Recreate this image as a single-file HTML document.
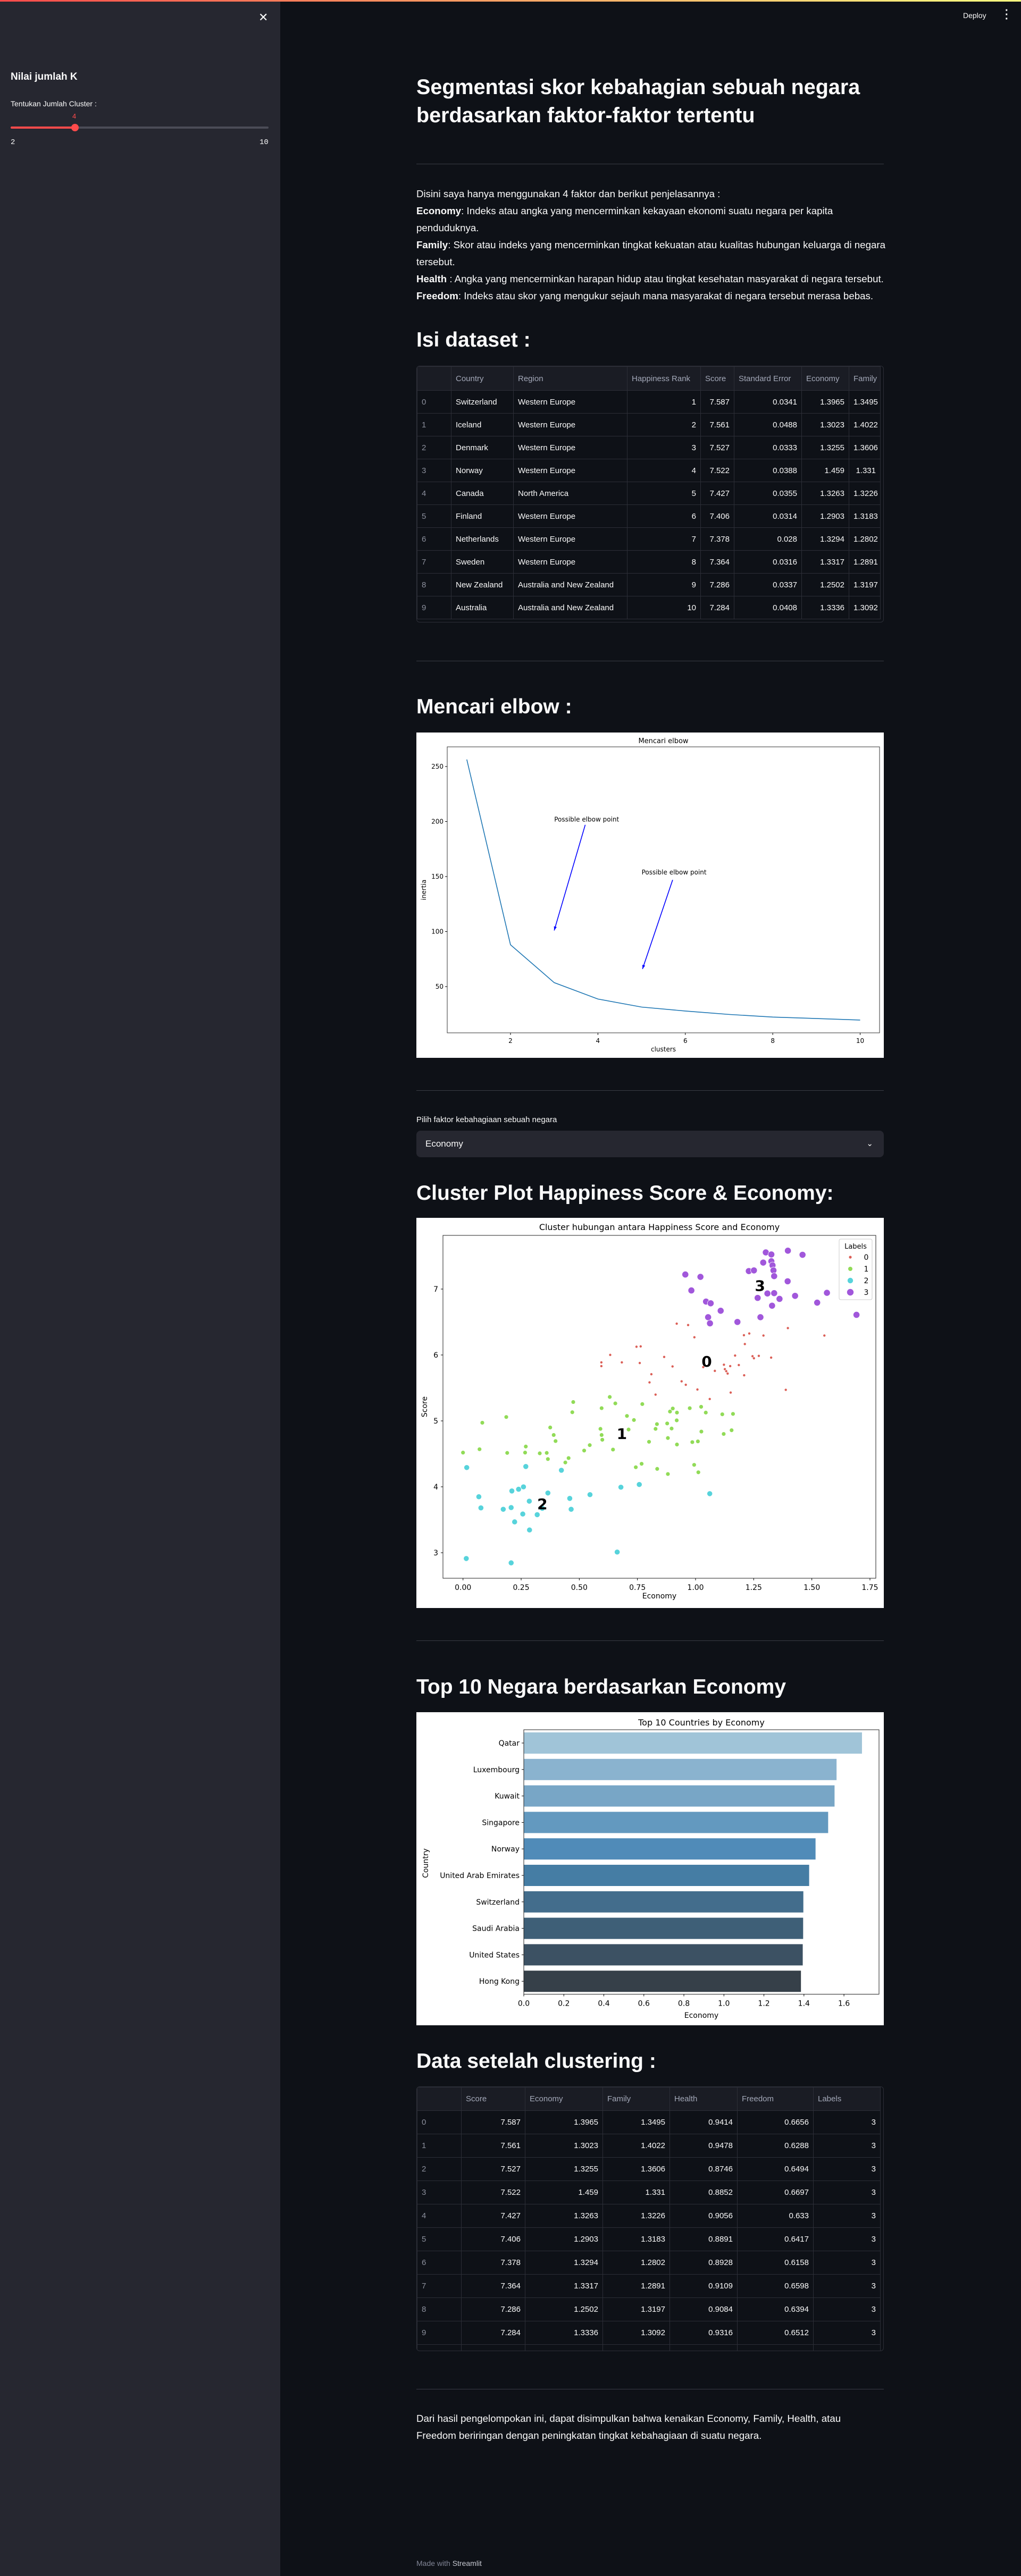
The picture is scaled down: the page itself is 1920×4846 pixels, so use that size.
<!DOCTYPE html>
<html><head><meta charset="utf-8">
<style>
*{margin:0;padding:0;box-sizing:border-box}
body{width:1920px;height:4846px;background:#0e1117;font-family:"Liberation Sans",sans-serif;color:#fafafa;position:relative;overflow:hidden}
.abs{position:absolute}
.h{position:absolute;left:783px;font-weight:bold;white-space:nowrap;color:#fafafa}
.hr{position:absolute;left:783px;width:879px;height:1px;background:#3a3c45}
table{border-collapse:collapse;table-layout:fixed;font-size:15px}
td,th{border:1px solid #2c2e37;padding:0 8px;white-space:nowrap;overflow:hidden}
th{font-weight:normal;color:#a3a8b8;text-align:left;background:#1a1c24}
td{text-align:right}
td.l{text-align:left}
td.i{text-align:left;color:#8b8f9c}
.tw{position:absolute;left:783px;width:879px;border:1px solid #2c2e37;border-radius:6px;overflow:hidden}
</style></head><body>
<div class="abs" style="left:0;top:0;width:1920px;height:3px;background:linear-gradient(90deg,#ff4b4b,#fffd80)"></div>

<div class="abs" style="left:0;top:3px;width:527px;height:4843px;background:#262730">
  <div class="abs" style="left:486px;top:17px;font-size:22px;color:#fafafa">✕</div>
  <div class="abs" style="left:20px;top:131px;font-size:19px;font-weight:bold">Nilai jumlah K</div>
  <div class="abs" style="left:20px;top:184px;font-size:14px">Tentukan Jumlah Cluster :</div>
  <div class="abs" style="left:136px;top:208px;font-size:13px;color:#ff4b4b">4</div>
  <div class="abs" style="left:20px;top:235px;width:485px;height:4px;border-radius:2px;background:#4b4c57"></div>
  <div class="abs" style="left:20px;top:235px;width:121px;height:4px;border-radius:2px;background:#ff4b4b"></div>
  <div class="abs" style="left:134px;top:230px;width:14px;height:14px;border-radius:50%;background:#ff4b4b"></div>
  <div class="abs" style="left:20px;top:257px;font-size:14px;font-family:'Liberation Mono',monospace">2</div>
  <div class="abs" style="left:488px;top:257px;font-size:14px;font-family:'Liberation Mono',monospace">10</div>
</div>

<div class="abs" style="left:1811px;top:21px;font-size:14px">Deploy</div>
<div class="abs" style="left:1890px;top:16px;font-size:20px;font-weight:bold;line-height:8px">·<br>·<br>·</div>

<div class="h" style="top:138px;font-size:39.5px;line-height:53px">Segmentasi skor kebahagian sebuah negara<br>berdasarkan faktor-faktor tertentu</div>
<div class="hr" style="top:308px"></div>

<div class="abs" style="left:783px;top:349px;font-size:18.7px;line-height:32px;white-space:nowrap">
Disini saya hanya menggunakan 4 faktor dan berikut penjelasannya :<br>
<b>Economy</b>: Indeks atau angka yang mencerminkan kekayaan ekonomi suatu negara per kapita<br>
penduduknya.<br>
<b>Family</b>: Skor atau indeks yang mencerminkan tingkat kekuatan atau kualitas hubungan keluarga di negara<br>
tersebut.<br>
<b>Health</b> : Angka yang mencerminkan harapan hidup atau tingkat kesehatan masyarakat di negara tersebut.<br>
<b>Freedom</b>: Indeks atau skor yang mengukur sejauh mana masyarakat di negara tersebut merasa bebas.
</div>

<div class="h" style="top:618px;font-size:39px;line-height:44px">Isi dataset :</div>
<div class="tw" style="top:688px;height:483px">
<table style="width:871px">
<colgroup><col style="width:64px"><col style="width:117px"><col style="width:214px"><col style="width:138px"><col style="width:63px"><col style="width:127px"><col style="width:89px"><col style="width:59px"></colgroup>
<tr style="height:45px"><th></th><th>Country</th><th>Region</th><th>Happiness Rank</th><th>Score</th><th>Standard Error</th><th>Economy</th><th>Family</th></tr>
<tr style="height:43px"><td class="i">0</td><td class="l">Switzerland</td><td class="l">Western Europe</td><td>1</td><td>7.587</td><td>0.0341</td><td>1.3965</td><td>1.3495</td></tr>
<tr style="height:43px"><td class="i">1</td><td class="l">Iceland</td><td class="l">Western Europe</td><td>2</td><td>7.561</td><td>0.0488</td><td>1.3023</td><td>1.4022</td></tr>
<tr style="height:43px"><td class="i">2</td><td class="l">Denmark</td><td class="l">Western Europe</td><td>3</td><td>7.527</td><td>0.0333</td><td>1.3255</td><td>1.3606</td></tr>
<tr style="height:43px"><td class="i">3</td><td class="l">Norway</td><td class="l">Western Europe</td><td>4</td><td>7.522</td><td>0.0388</td><td>1.459</td><td>1.331</td></tr>
<tr style="height:43px"><td class="i">4</td><td class="l">Canada</td><td class="l">North America</td><td>5</td><td>7.427</td><td>0.0355</td><td>1.3263</td><td>1.3226</td></tr>
<tr style="height:43px"><td class="i">5</td><td class="l">Finland</td><td class="l">Western Europe</td><td>6</td><td>7.406</td><td>0.0314</td><td>1.2903</td><td>1.3183</td></tr>
<tr style="height:43px"><td class="i">6</td><td class="l">Netherlands</td><td class="l">Western Europe</td><td>7</td><td>7.378</td><td>0.028</td><td>1.3294</td><td>1.2802</td></tr>
<tr style="height:43px"><td class="i">7</td><td class="l">Sweden</td><td class="l">Western Europe</td><td>8</td><td>7.364</td><td>0.0316</td><td>1.3317</td><td>1.2891</td></tr>
<tr style="height:43px"><td class="i">8</td><td class="l">New Zealand</td><td class="l">Australia and New Zealand</td><td>9</td><td>7.286</td><td>0.0337</td><td>1.2502</td><td>1.3197</td></tr>
<tr style="height:43px"><td class="i">9</td><td class="l">Australia</td><td class="l">Australia and New Zealand</td><td>10</td><td>7.284</td><td>0.0408</td><td>1.3336</td><td>1.3092</td></tr>
</table></div>
<div class="hr" style="top:1243px"></div>

<div class="h" style="top:1308px;font-size:39px;line-height:44px">Mencari elbow :</div>
<svg id="elbow" class="abs" style="left:783px;top:1378px" width="879" height="612" font-family="DejaVu Sans, sans-serif"></svg>

<div class="hr" style="top:2051px"></div>
<div class="abs" style="left:783px;top:2098px;font-size:15px">Pilih faktor kebahagiaan sebuah negara</div>
<div class="abs" style="left:783px;top:2127px;width:879px;height:50px;border-radius:8px;background:#262730;font-size:17px;line-height:50px;padding-left:17px">Economy<span style="position:absolute;right:20px;top:0;font-size:15px">&#8964;</span></div>

<div class="h" style="top:2223px;font-size:39px;line-height:44px">Cluster Plot Happiness Score &amp; Economy:</div>
<svg id="cluster" class="abs" style="left:783px;top:2291px" width="879" height="734" font-family="DejaVu Sans, sans-serif"></svg>

<div class="hr" style="top:3086px"></div>
<div class="h" style="top:3152px;font-size:39px;line-height:44px">Top 10 Negara berdasarkan Economy</div>
<svg id="bars" class="abs" style="left:783px;top:3221px" width="879" height="589" font-family="DejaVu Sans, sans-serif"></svg>

<div class="h" style="top:3856px;font-size:39px;line-height:44px">Data setelah clustering :</div>
<div class="tw" style="top:3925px;height:498px">
<table style="width:871px">
<colgroup><col style="width:83px"><col style="width:120px"><col style="width:146px"><col style="width:126px"><col style="width:127px"><col style="width:143px"><col style="width:126px"></colgroup>
<tr style="height:44px"><th></th><th>Score</th><th>Economy</th><th>Family</th><th>Health</th><th>Freedom</th><th>Labels</th></tr>
<tr style="height:44px"><td class="i">0</td><td>7.587</td><td>1.3965</td><td>1.3495</td><td>0.9414</td><td>0.6656</td><td>3</td></tr>
<tr style="height:44px"><td class="i">1</td><td>7.561</td><td>1.3023</td><td>1.4022</td><td>0.9478</td><td>0.6288</td><td>3</td></tr>
<tr style="height:44px"><td class="i">2</td><td>7.527</td><td>1.3255</td><td>1.3606</td><td>0.8746</td><td>0.6494</td><td>3</td></tr>
<tr style="height:44px"><td class="i">3</td><td>7.522</td><td>1.459</td><td>1.331</td><td>0.8852</td><td>0.6697</td><td>3</td></tr>
<tr style="height:44px"><td class="i">4</td><td>7.427</td><td>1.3263</td><td>1.3226</td><td>0.9056</td><td>0.633</td><td>3</td></tr>
<tr style="height:44px"><td class="i">5</td><td>7.406</td><td>1.2903</td><td>1.3183</td><td>0.8891</td><td>0.6417</td><td>3</td></tr>
<tr style="height:44px"><td class="i">6</td><td>7.378</td><td>1.3294</td><td>1.2802</td><td>0.8928</td><td>0.6158</td><td>3</td></tr>
<tr style="height:44px"><td class="i">7</td><td>7.364</td><td>1.3317</td><td>1.2891</td><td>0.9109</td><td>0.6598</td><td>3</td></tr>
<tr style="height:44px"><td class="i">8</td><td>7.286</td><td>1.2502</td><td>1.3197</td><td>0.9084</td><td>0.6394</td><td>3</td></tr>
<tr style="height:44px"><td class="i">9</td><td>7.284</td><td>1.3336</td><td>1.3092</td><td>0.9316</td><td>0.6512</td><td>3</td></tr>
<tr style="height:16px"><td></td><td></td><td></td><td></td><td></td><td></td><td></td></tr>
</table></div>
<div class="hr" style="top:4494px"></div>
<div class="abs" style="left:783px;top:4534px;font-size:18.7px;line-height:32px;white-space:nowrap">Dari hasil pengelompokan ini, dapat disimpulkan bahwa kenaikan Economy, Family, Health, atau<br>Freedom beriringan dengan peningkatan tingkat kebahagiaan di suatu negara.</div>
<div class="abs" style="left:783px;top:4814px;font-size:14px;color:#808495">Made with <span style="color:#c4c6cf">Streamlit</span></div>

<script>
// ---- elbow data ----
const elbowK = [1,2,3,4,5,6,7,8,9,10];
const elbowInertia = [256.4,88,53.6,38.7,31.4,27.8,24.7,22.3,21.0,19.6];
const elbowXTicks = [2,4,6,8,10];
const elbowYTicks = [50,100,150,200,250];
// ---- cluster data ----
const econ0 = [0.919,0.968,0.995,1.208,1.231,1.292,1.397,1.554,0.746,0.764,0.633,0.595,0.595,0.683,0.760,0.865,0.901,0.810,0.802,0.828,0.940,0.958,1.008,1.033,1.061,1.083,1.122,1.126,1.132,1.138,1.149,1.170,1.186,1.209,1.212,1.245,1.251,1.272,1.325,1.151,1.388];
const score0 = [6.475,6.454,6.269,6.300,6.326,6.295,6.408,6.295,6.125,6.130,6.001,5.888,5.831,5.888,5.878,5.970,5.826,5.708,5.584,5.399,5.600,5.548,5.476,5.816,5.332,5.759,5.852,5.785,5.754,5.718,5.831,5.991,5.847,5.692,6.166,5.981,5.950,5.986,5.960,5.430,5.471];
const econ1 = [0.000,0.071,0.083,0.186,0.190,0.270,0.267,0.330,0.360,0.365,0.375,0.390,0.398,0.440,0.454,0.474,0.470,0.521,0.545,0.596,0.591,0.596,0.599,0.631,0.655,0.645,0.705,0.712,0.735,0.771,0.743,0.768,0.800,0.828,0.834,0.835,0.878,0.881,0.890,0.897,0.902,0.920,0.919,0.920,0.881,0.975,0.986,0.994,1.012,1.024,1.025,1.010,1.044,1.115,1.121,1.161,1.155];
const score1 = [4.519,4.570,4.972,5.059,4.514,4.611,4.519,4.508,4.514,4.421,4.900,4.786,4.694,4.369,4.436,5.286,5.131,4.550,4.632,5.193,4.879,4.786,4.714,5.363,5.265,4.565,5.075,4.869,5.013,5.255,4.297,4.349,4.683,4.879,4.951,4.272,4.961,4.740,5.142,4.884,5.188,5.126,5.008,4.642,4.194,5.193,4.678,4.333,4.220,5.214,4.838,4.689,5.126,5.100,4.802,5.106,4.858];
const econ2 = [0.016,0.068,0.077,0.014,0.173,0.207,0.210,0.239,0.260,0.270,0.285,0.222,0.257,0.286,0.319,0.341,0.365,0.423,0.459,0.465,0.546,0.679,0.758,0.663,0.207,1.061];
const score2 = [4.292,3.849,3.680,2.912,3.659,3.685,3.937,3.963,3.999,4.308,3.782,3.468,3.587,3.345,3.577,3.674,3.906,4.251,3.824,3.659,3.881,3.994,4.035,3.010,2.846,3.896];
const econ3 = [0.956,1.021,0.982,1.045,1.065,1.054,1.062,1.108,1.180,1.229,1.251,1.291,1.302,1.326,1.326,1.331,1.335,1.338,1.309,1.338,1.267,1.361,1.329,1.279,1.397,1.460,1.396,1.428,1.523,1.565,1.692];
const score3 = [7.221,7.185,6.979,6.810,6.784,6.573,6.480,6.671,6.501,7.273,7.283,7.402,7.556,7.525,7.422,7.360,7.283,7.196,6.933,6.938,6.866,6.851,6.748,6.573,7.582,7.520,7.118,6.897,6.794,6.943,6.609];
const centroidEcon = [1.048,0.683,0.341,1.277];
const centroidScore = [5.903,4.807,3.741,7.051];
const clusterXTicks = [0,0.25,0.5,0.75,1.0,1.25,1.5,1.75];
const clusterXTickLabels = ["0.00","0.25","0.50","0.75","1.00","1.25","1.50","1.75"];
const clusterYTicks = [3,4,5,6,7];
// ---- bar data ----
const countries = ["Qatar","Luxembourg","Kuwait","Singapore","Norway","United Arab Emirates","Switzerland","Saudi Arabia","United States","Hong Kong"];
const economyVals = [1.690,1.563,1.553,1.521,1.458,1.426,1.397,1.396,1.394,1.385];
const barXTicks = [0,0.2,0.4,0.6,0.8,1.0,1.2,1.4,1.6];
const barPalette = ["#a0c4d8","#8ab3cf","#78a6c6","#6399bf","#508bb8","#457da4","#436d8c","#3e5f77","#3c5163","#364049"];

const NS="http://www.w3.org/2000/svg";
function mk(parent,tag,attrs,text){const e=document.createElementNS(NS,tag);for(const k in attrs)e.setAttribute(k,attrs[k]);if(text!==undefined)e.textContent=text;parent.appendChild(e);return e;}

// ===== Elbow =====
(function(){
  const s=document.getElementById('elbow');
  mk(s,'rect',{x:0,y:0,width:879,height:612,fill:'#fff'});
  const L=58,R=871,T=27,B=565;
  const X=v=>177+(v-2)*82.19, Y=v=>478-(v-50)*2.07;
  const frame=mk(s,'rect',{x:L,y:T,width:R-L,height:B-T,fill:'none',stroke:'#333','stroke-width':1});
  
  
  mk(s,'text',{x:(L+R)/2,y:T-7,'text-anchor':'middle','font-size':13,fill:'#000'},'Mencari elbow');
  elbowXTicks.forEach(v=>{mk(s,'line',{x1:X(v),x2:X(v),y1:B,y2:B+4,stroke:'#000'});const t=mk(s,'text',{x:X(v),y:B+19,'text-anchor':'middle','font-size':12,fill:'#000'},String(v));});
  elbowYTicks.forEach(v=>{mk(s,'line',{x1:L-4,x2:L,y1:Y(v),y2:Y(v),stroke:'#000'});const t=mk(s,'text',{x:L-7,y:Y(v)+4,'text-anchor':'end','font-size':12,fill:'#000'},String(v));});
  const xl=mk(s,'text',{x:(L+R)/2,y:600,'text-anchor':'middle','font-size':12,fill:'#000'},'clusters');
  
  const yl=mk(s,'text',{x:0,y:0,'text-anchor':'middle','font-size':12,fill:'#000',transform:'translate(18,'+((T+B)/2)+') rotate(-90)'},'inertia');
  
  const pts=elbowK.map((k,i)=>X(k)+','+Y(elbowInertia[i])).join(' ');
  const ln=mk(s,'polyline',{points:pts,fill:'none',stroke:'#1f77b4','stroke-width':1.6});
  
  const ann=[[3.0,200,3.71,197,3.0,101],[5.0,152,5.71,147,5.02,66]];
  ann.forEach(a=>{
    const t=mk(s,'text',{x:X(a[0]),y:Y(a[1]),'font-size':12,fill:'#000'},'Possible elbow point');
    
    const x1=X(a[2]),y1=Y(a[3]),x2=X(a[4]),y2=Y(a[5]);
    const ar=mk(s,'line',{x1:x1,y1:y1,x2:x2,y2:y2,stroke:'#0000ff','stroke-width':1.6});
    
    const ang=Math.atan2(y2-y1,x2-x1),h=8;
    const p1=[x2-h*Math.cos(ang-0.35),y2-h*Math.sin(ang-0.35)],p2=[x2-h*Math.cos(ang+0.35),y2-h*Math.sin(ang+0.35)];
    mk(s,'polygon',{points:x2+','+y2+' '+p1.join(',')+' '+p2.join(','),fill:'#0000ff'});
  });
})();

// ===== Cluster scatter =====
(function(){
  const s=document.getElementById('cluster');
  mk(s,'rect',{x:0,y:0,width:879,height:734,fill:'#fff'});
  const L=50,R=864,T=33,B=678;
  const X=v=>87.7+v*437.3, Y=v=>134+(7-v)*124;
  mk(s,'rect',{x:L,y:T,width:R-L,height:B-T,fill:'none',stroke:'#222','stroke-width':1});
  const tt=mk(s,'text',{x:(L+R)/2,y:T-10,'text-anchor':'middle','font-size':16,fill:'#000'},'Cluster hubungan antara Happiness Score and Economy');
  
  clusterXTicks.forEach((v,i)=>{mk(s,'line',{x1:X(v),x2:X(v),y1:B,y2:B+4,stroke:'#000'});const t=mk(s,'text',{x:X(v),y:B+22,'text-anchor':'middle','font-size':14,fill:'#000'},clusterXTickLabels[i]);});
  clusterYTicks.forEach(v=>{mk(s,'line',{x1:L-4,x2:L,y1:Y(v),y2:Y(v),stroke:'#000'});const t=mk(s,'text',{x:L-9,y:Y(v)+5,'text-anchor':'end','font-size':14,fill:'#000'},String(v));});
  const xl=mk(s,'text',{x:(L+R)/2,y:716,'text-anchor':'middle','font-size':14,fill:'#000'},'Economy');
  
  const yl=mk(s,'text',{x:0,y:0,'text-anchor':'middle','font-size':14,fill:'#000',transform:'translate(20,'+((T+B)/2)+') rotate(-90)'},'Score');
  
  const colors=['#db5f57','#91db57','#57d3db','#a157db'];
  const radii=[2.6,4,5.2,6.2];
  const ex=[econ0,econ1,econ2,econ3], sc=[score0,score1,score2,score3];
  [2,1,0,3].forEach(c=>{
    ex[c].forEach((v,i)=>{
      const p=mk(s,'circle',{cx:X(v),cy:Y(sc[c][i]),r:radii[c],fill:colors[c],stroke:'#fff','stroke-width':0.8});
      
      
    });
  });
  centroidEcon.forEach((v,i)=>{
    const t=mk(s,'text',{x:X(v),y:Y(centroidScore[i])+10,'text-anchor':'middle','font-size':28,'font-weight':'bold',fill:'#000'},String(i));
    
  });
  const lg=mk(s,'g',{});
  
  mk(lg,'rect',{x:795,y:40,width:62,height:114,rx:3,fill:'#fff',stroke:'#ccc'});
  mk(lg,'text',{x:826,y:58,'text-anchor':'middle','font-size':13,fill:'#000'},'Labels');
  [0,1,2,3].forEach(c=>{
    const yy=74+c*22;
    const e=mk(lg,'g',{});
    
    mk(e,'circle',{cx:816,cy:yy,r:radii[c],fill:colors[c]});
    mk(e,'text',{x:846,y:yy+5,'text-anchor':'middle','font-size':14,fill:'#000'},String(c));
  });
})();

// ===== Bar chart =====
(function(){
  const s=document.getElementById('bars');
  mk(s,'rect',{x:0,y:0,width:879,height:589,fill:'#fff'});
  const L=202,R=870,T=33,B=530.5;
  const X=v=>L+v*376.3, Yc=i=>58+i*49.8;
  const tt=mk(s,'text',{x:(L+R)/2,y:25,'text-anchor':'middle','font-size':16,fill:'#000'},'Top 10 Countries by Economy');
  
  countries.forEach((c,i)=>{
    const b=mk(s,'rect',{x:X(0),y:Yc(i)-20,width:X(economyVals[i])-X(0),height:40,fill:barPalette[i]});
    
    
    mk(s,'line',{x1:L-4,x2:L,y1:Yc(i),y2:Yc(i),stroke:'#000'});
    const t=mk(s,'text',{x:L-8,y:Yc(i)+5,'text-anchor':'end','font-size':14,fill:'#000'},c);
    
  });
  mk(s,'rect',{x:L,y:T,width:R-L,height:B-T,fill:'none',stroke:'#222','stroke-width':1});
  barXTicks.forEach(v=>{mk(s,'line',{x1:X(v),x2:X(v),y1:B,y2:B+4,stroke:'#000'});const t=mk(s,'text',{x:X(v),y:B+22,'text-anchor':'middle','font-size':14,fill:'#000'},v.toFixed(1));});
  const xl=mk(s,'text',{x:(L+R)/2,y:575,'text-anchor':'middle','font-size':14,fill:'#000'},'Economy');
  
  const yl=mk(s,'text',{x:0,y:0,'text-anchor':'middle','font-size':14,fill:'#000',transform:'translate(22,284) rotate(-90)'},'Country');
  
})();
</script>
</body></html>
